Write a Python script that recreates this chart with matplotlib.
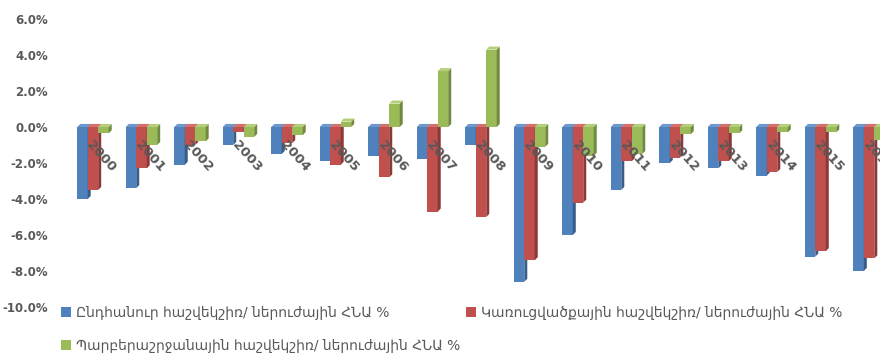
import matplotlib.pyplot as plt
from matplotlib.patches import Polygon
import numpy as np

YEARS = ["2000", "2001", "2002", "2003", "2004", "2005", "2006", "2007", "2008",
         "2009", "2010", "2011", "2012", "2013", "2014", "2015", "2016"]
# balance / potential GDP, %
overall = [-4.0, -3.4, -2.1, -1.0, -1.5, -1.9, -1.6, -1.8, -1.0,
           -8.6, -6.0, -3.5, -2.0, -2.3, -2.7, -7.2, -8.0]
structural = [-3.5, -2.3, -1.0, -0.3, -0.9, -2.1, -2.8, -4.7, -5.0,
              -7.4, -4.2, -1.9, -1.7, -1.9, -2.5, -6.9, -7.3]
cyclical = [-0.35, -1.0, -0.8, -0.55, -0.45, 0.3, 1.3, 3.1, 4.3,
            -1.1, -1.6, -1.5, -0.4, -0.35, -0.3, -0.3, -0.7]
LABELS = ["Ընդհանուր հաշվեկշիռ/ ներուժային ՀՆԱ %",
          "Կառուցվածքային հաշվեկշիռ/ ներուժային ՀՆԱ %",
          "Պարբերաշրջանային հաշվեկշիռ/ ներուժային ՀՆԱ %"]
YTICKS = [6, 4, 2, 0, -2, -4, -6, -8, -10]

COLORS = ["#4F81BD", "#C0504D", "#9BBB59"]
SIDES = ["#385D8A", "#8C3836", "#71893F"]
TOPS = ["#6E98CC", "#D46F6C", "#B3CF78"]
GREY = "#595959"

W, H = 880, 354
fig = plt.figure(figsize=(W / 100, H / 100), dpi=100)
# axes runs a little past the right edge, so the last group is cut
ax = fig.add_axes([59 / W, 1 - 307 / H, 844 / W, 288 / H])
ax.set_xlim(-0.7, 16.7)
ax.set_ylim(-10, 6)

x = np.arange(len(YEARS))
bw = 0.216
dx, dy = 0.062, 0.17  # depth of the extrusion
handles = []
for k, vals in enumerate([overall, structural, cyclical]):
    xs = x + (k - 1) * bw
    b = ax.bar(xs, vals, width=bw, color=COLORS[k], zorder=3 + k, label=LABELS[k])
    handles.append(b)
    for xc, v in zip(xs, vals):
        r = xc + bw / 2
        lo, hi = min(v, 0), max(v, 0)
        ax.add_patch(Polygon([(r, lo), (r + dx, lo + dy), (r + dx, hi + dy), (r, hi)],
                             closed=True, color=SIDES[k], zorder=3 + k, lw=0))
        ax.add_patch(Polygon([(r - bw, hi), (r - bw + dx, hi + dy), (r + dx, hi + dy), (r, hi)],
                             closed=True, color=TOPS[k], zorder=3 + k, lw=0))

for i, yr in enumerate(YEARS):
    ax.text(i - 0.08, -0.85, yr, rotation=-48, rotation_mode="anchor",
            ha="left", va="center", fontsize=9.5, fontweight="bold",
            color=GREY, zorder=10)

ax.set_yticks(YTICKS)
ax.set_yticklabels([f"{t:.1f}%" for t in YTICKS], fontsize=8.5,
                   fontweight="bold", color=GREY)
ax.set_xticks([])
ax.tick_params(axis="y", length=0, pad=8)
for s in ax.spines.values():
    s.set_visible(False)

fig.legend([handles[0], handles[2], handles[1]], [LABELS[0], LABELS[2], LABELS[1]],
           loc="upper left", bbox_to_anchor=(61 / W, 1 - 306 / H), ncol=2,
           frameon=False, fontsize=10, labelcolor=GREY, handlelength=0.7,
           handleheight=0.7, handletextpad=0.4, columnspacing=0.4,
           labelspacing=1.35, borderaxespad=0, borderpad=0)

fig.savefig("out.png", dpi=100)
